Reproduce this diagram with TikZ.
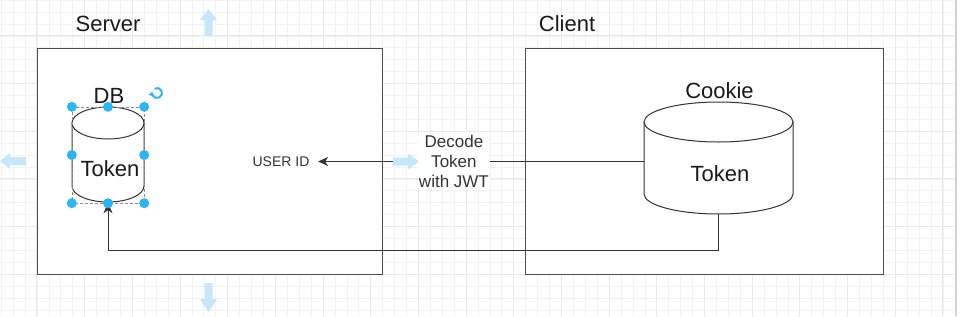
\documentclass[tikz,border=0pt]{standalone}
\usepackage{fontspec}
\setmainfont{Liberation Sans}
\usetikzlibrary{arrows.meta}
\definecolor{hblue}{HTML}{29B6F2}
\definecolor{lblue}{RGB}{197,230,251}
\definecolor{boxc}{HTML}{4D4D4D}
\definecolor{linec}{HTML}{333333}
\definecolor{txt}{HTML}{1A1A1A}
\begin{document}
\begin{tikzpicture}[x=1pt,y=-1pt,
  gridminor/.style={draw=black!5,line width=0.5pt},
  gridmajor/.style={draw=black!9,line width=0.7pt},
  box/.style={draw=boxc,line width=1pt,fill=white,inner sep=0pt},
  cyl/.style={draw=linec,line width=1pt,fill=white},
  big/.style={font=\fontsize{22}{26}\selectfont,inner sep=0pt,text=txt},
  conn/.style={draw=linec,line width=1pt},
  tip/.style={-{Stealth[length=10pt,width=9pt,inset=3pt]}},
  frame/.style={inner sep=0pt},
  elabel/.style={align=center,fill=white,inner xsep=1pt,inner ysep=0pt,
    font=\fontsize{17}{20}\selectfont,text=linec},
  handle/.style={fill=hblue},
  hint/.style={fill=lblue}
]
\useasboundingbox (0,0) rectangle (961,316);
% grid
\foreach \i in {-1,...,78} \draw[gridminor] ({13+\i*11.92},0) -- ({13+\i*11.92},316);
\foreach \j in {0,...,26} \draw[gridminor] (0,{\j*11.92}) -- (954,{\j*11.92});
\foreach \i in {2,6,...,78} \draw[gridmajor] ({13+\i*11.92},0) -- ({13+\i*11.92},316);
\foreach \j in {3,7,...,23} \draw[gridmajor] (0,{\j*11.92}) -- (954,{\j*11.92});
\fill[black!18] (954.5,0) rectangle (957,316);

% containers
\node[box,minimum width=345pt,minimum height=226pt] (server) at (209.5,161) {};
\node[box,minimum width=358pt,minimum height=226pt] (client) at (704,161) {};
\node[big] (serverlbl) at (108,24) {Server};
\node[big] (clientlbl) at (567,24) {Client};

% DB cylinder
\draw[cyl] (72,123) -- (72,186) arc[start angle=180,end angle=0,x radius=36,y radius=16] -- (144,123);
\draw[cyl] (108,123) ellipse[x radius=36,y radius=16];
\node[frame,minimum width=72pt,minimum height=96pt] (db) at (108,155) {};
\node[big] (dblbl) at (109,95.5) {DB};
\node[big] (dbtok) at (110,169) {Token};

% Cookie cylinder
\draw[cyl] (644,122) -- (644,194) arc[start angle=180,end angle=0,x radius=74.5,y radius=20] -- (793,122);
\draw[cyl] (718.5,122) ellipse[x radius=74.5,y radius=20];
\node[frame,minimum width=149pt,minimum height=112pt] (cookie) at (718.5,158) {};
\node[big] (cookielbl) at (719.5,90.5) {Cookie};
\node[big] (cookietok) at (720,174) {Token};

% USER ID
\node[inner xsep=8.5pt,inner ysep=0pt,font=\fontsize{14}{16}\selectfont,text=linec] (userid) at (281,161.5) {USER ID};

% connectors
\draw[conn,tip] (cookie.west |- userid.east) -- node[elabel,pos=0.583] (decode) {Decode\\Token\\with JWT} (userid.east);
\draw[conn,tip] (cookie.south) -- ++(0,36) -| (db.south);

% selection decoration
\draw[black!45,line width=0.6pt,dash pattern=on 3pt off 2pt] (db.north west) rectangle (db.south east);
\foreach \p in {north west,north,north east,west,east,south west,south,south east}
  \fill[handle] (db.\p) circle[radius=5];
\draw[hblue,line width=2pt,-{Triangle[length=3.5pt,width=6pt]}] (157,93) ++(-120:5) arc[start angle=-120,end angle=190,radius=5];

% hint arrows
\fill[hint] (204.5,36) -- (204.5,20) -- (200,20) -- (208.5,9) -- (217,20) -- (212.5,20) -- (212.5,36) -- cycle;
\fill[hint] (204.5,283) -- (204.5,299) -- (200,299) -- (208.5,312) -- (217,299) -- (212.5,299) -- (212.5,283) -- cycle;
\fill[hint] (26,157) -- (10,157) -- (10,153) -- (0,161) -- (10,169) -- (10,165) -- (26,165) -- cycle;
\fill[hint] (393,157.5) -- (408,157.5) -- (408,153.5) -- (419,161.5) -- (408,169.5) -- (408,165.5) -- (393,165.5) -- cycle;
\end{tikzpicture}
\end{document}
